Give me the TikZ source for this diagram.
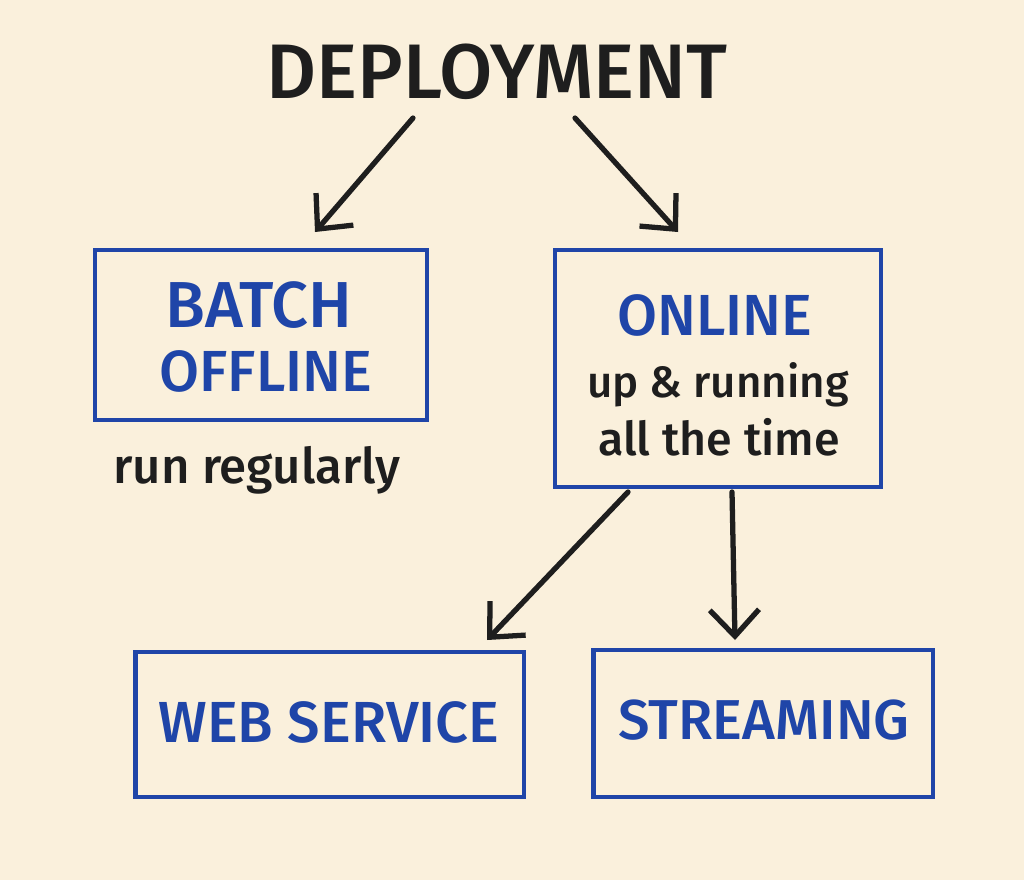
\documentclass[tikz,border=0pt]{standalone}
\usepackage{fontspec}
\setmainfont{Fira Sans}[UprightFont=* Medium, BoldFont=* SemiBold]
\usepackage{tikz}
\usepackage{xcolor}
\usetikzlibrary{arrows.meta,calc,positioning}

\definecolor{paper}{HTML}{FAF0DC}
\definecolor{inkblue}{HTML}{1F45A8}
\definecolor{ink}{HTML}{1E1E1E}

\begin{document}
\begin{tikzpicture}[x=0.02cm, y=-0.02cm,
    box/.style={draw=inkblue, line width=2.8pt, rectangle, inner sep=0pt},
    label/.style={text=inkblue, font=\fontsize{33}{38}\selectfont},
    note/.style={text=ink, font=\fontsize{25}{30}\selectfont},
    arrow/.style={draw=ink, line width=3pt, line cap=round,
                  -{Straight Barb[length=15pt, width=28pt, line width=3pt]}}]
  % paper
  \fill[paper] (0,0) rectangle (1024,880);
  \useasboundingbox (0,0) rectangle (1024,880);

  % title
  \node[text=ink, font=\fontsize{44}{50}\selectfont] (title) at (497,72) {DEPLOYMENT};

  % boxes
  \node[box, minimum width=6.64cm, minimum height=3.4cm] (batchbox) at (261,335) {};
  \node[box, minimum width=6.52cm, minimum height=4.74cm] (onlinebox) at (718,368.5) {};
  \node[box, minimum width=7.78cm, minimum height=2.9cm] (webbox) at (329.5,724.5) {};
  \node[box, minimum width=6.8cm, minimum height=2.94cm] (streambox) at (763,723.5) {};

  \node[label, font=\fontsize{37}{42}\selectfont] (batch) at (259,305) {BATCH};
  \node[label] (offline) at (266,371) {OFFLINE};
  \node[note, font=\fontsize{28}{32}\selectfont] (regular) at (257,470) {run regularly};

  \node[label] (online) at (715,315) {ONLINE};
  \node[note] (uprun) at (718,385) {up \& running};
  \node[note, font=\fontsize{26.5}{30}\selectfont] (alltime) at (719,437) {all the time};

  \node[label] (web) at (329,722) {WEB SERVICE};
  \node[label, font=\fontsize{32}{38}\selectfont] (stream) at (764,720) {STREAMING};

  % arrow ends
  \coordinate (a1) at (413,118);
  \coordinate (b1) at (315,232);
  \coordinate (a2) at (575,118);
  \coordinate (b2) at (678,232);
  \coordinate (a3) at (628,492);
  \coordinate (b3) at (487,640);
  \coordinate (a4) at (732,492);
  \coordinate (b4) at (735,640);

  \draw[arrow] (a1) -- (b1);
  \draw[arrow] (a2) -- (b2);
  \draw[arrow] (a3) -- (b3);
  \draw[arrow] (a4) -- (b4);
\end{tikzpicture}
\end{document}
